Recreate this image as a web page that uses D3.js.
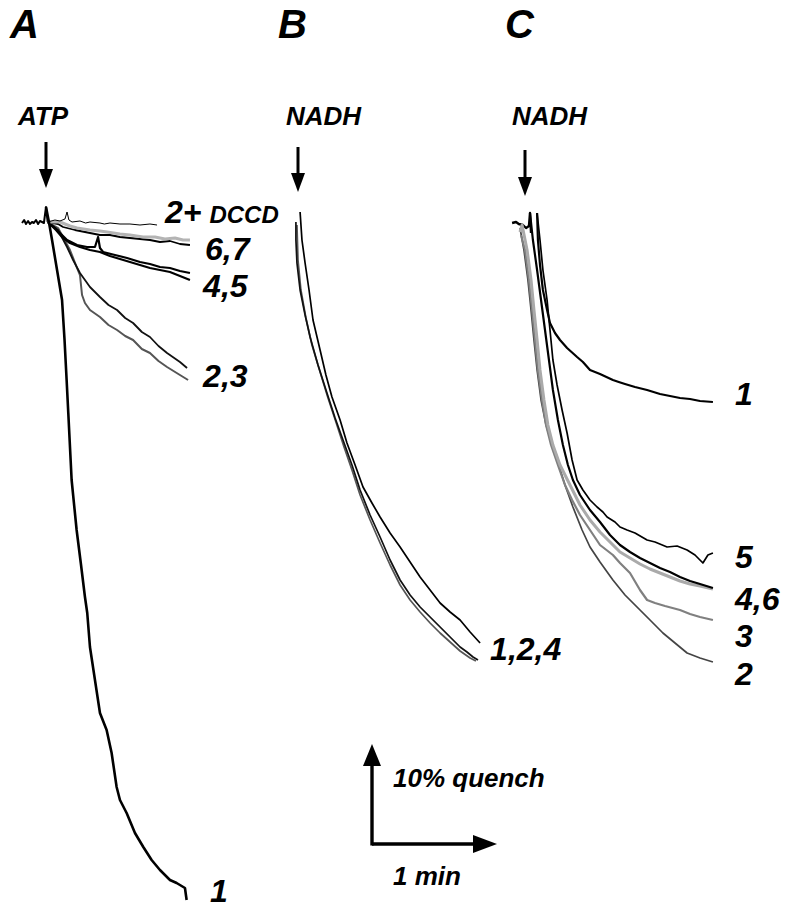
<!DOCTYPE html>
<html>
<head>
<meta charset="utf-8">
<script src="https://cdn.jsdelivr.net/npm/d3@7"></script>
<style>
  body { margin: 0; background: #fff; }
  svg text { font-family: "Liberation Sans", Arial, Helvetica, sans-serif; font-weight: bold; font-style: italic; fill: #000; }
</style>
</head>
<body>
<script>
// each point: [time after addition (s), quench (%)]
const preA = [[-11.5,0],[-10.5,-0.3],[-9.6,0.1],[-8.6,-0.2],[-7.7,0.1],[-6.7,-0.1],[-5.8,0],[-4.8,-0.3],[-3.8,0.1],[-2.9,-0.2],[-1.9,-0.1],[-1,0],[0,-1.6],[0.8,-0.1]];
const traceA1 = [[0,-1.6],[1.4,-0.1],[2.9,1.7],[5.3,4.7],[7.7,7.7],[8.9,11.7],[9.9,15.7],[10.7,19.0],[12.3,25.7],[14.7,30.7],[16.7,34.0],[18.7,37.4],[19.8,39.0],[21.1,42.4],[23.5,45.7],[25.9,49.0],[29.1,50.7],[31.5,53.0],[33.9,56.4],[35.5,57.7],[38.7,59.0],[42.7,61.0],[46.7,62.4],[50.7,63.7],[54.7,64.7],[59.5,65.7],[62.7,66.0],[66.7,66.5],[67.5,67.7]];
const traceA2 = [[0.8,-0.1],[5.8,0.7],[10.1,2.4],[13.0,3.7],[16.3,5.0],[21.1,6.4],[25.9,7.4],[30,8.2],[34.1,8.7],[38,9.5],[41.8,10.0],[46,10.9],[49.9,11.4],[54,12.3],[58.1,13.0],[64.3,13.9],[67.7,14.5]];
const traceA3 = [[0.8,-0.1],[5.8,0.5],[11.5,2.7],[14.9,4.5],[16.3,5.2],[17.3,7.2],[18.7,8.0],[21.1,8.7],[25.9,9.4],[30,10.2],[34.1,10.7],[38,11.3],[41.8,11.7],[46,12.6],[49.9,13.0],[54,13.8],[58.1,14.4],[64.3,15.2],[68.2,15.7]];
const traceA4 = [[0.8,-0.1],[4.3,0.5],[6.7,1.0],[10.1,1.7],[14.9,2.2],[19.7,2.4],[23.5,2.4],[25.0,1.4],[25.9,2.5],[27.4,2.9],[33.1,3.2],[38.9,3.5],[45.1,3.9],[49.9,4.1],[54.7,4.4],[59.5,4.5],[64.3,4.8],[69.1,5.0]];
const traceA5 = [[0.8,-0.1],[4.8,0.7],[7.7,1.4],[11.5,2.0],[16.3,2.4],[21.1,2.7],[25.9,2.9],[30.7,3.3],[35.5,3.6],[40.3,3.9],[45.1,4.2],[49.9,4.5],[54.7,4.7],[59.5,4.9],[64.3,5.3],[69.1,5.7]];
const traceA6 = [[0.8,-0.1],[6.7,-0.1],[11.5,0.3],[14.9,0.5],[21.1,0.7],[25.9,0.8],[29.3,0.9],[35.5,1.1],[40.3,1.2],[46.6,1.4],[52.3,1.4],[57.1,1.6],[61.9,1.5],[65.8,1.7],[69.1,1.7]];
const traceA7 = [[0.8,-0.1],[5.8,0.1],[8.2,0.4],[13.9,0.7],[21.1,1.0],[25.9,1.2],[30.7,1.2],[35.5,1.4],[40.3,1.5],[45.1,1.6],[49.9,1.7],[54.7,1.9],[59.5,1.8],[64.3,2.1],[69.1,2.2]];
const traceA2dccd = [[0.8,-0.1],[4.3,-0.3],[6.7,-0.2],[9.1,-0.4],[10.1,-1.1],[11.0,-0.3],[12.5,-0.1],[16.3,-0.2],[19,0],[21.1,-0.1],[25.9,0],[28,0.1],[30.7,0],[35.5,0.1],[40.3,0.1],[45.1,0.2],[49.9,0.1],[53.3,0.2]];

const traceB1 = [[1.0,-1.1],[1.9,1.7],[3.4,4.0],[5.3,6.7],[7.2,9.7],[10.6,12.7],[13.4,15.2],[16.3,17.4],[20.2,19.7],[23.5,22.0],[27.4,24.2],[31.2,26.4],[35.5,28.0],[39.4,29.4],[44.2,31.0],[49.0,32.4],[53.8,33.9],[58.6,35.4],[63.4,36.7],[68.2,38.0],[73.0,38.9],[77.8,39.7],[82.6,40.9],[87.4,42.0]];
const traceB2 = [[-1.0,-0.1],[-1.0,1.7],[-0.5,4.0],[1.0,6.7],[3.4,9.2],[5.8,11.4],[9.6,14.2],[13.9,17.0],[17.8,19.5],[21.6,21.7],[25.9,24.2],[29.8,26.7],[34.6,29.2],[39.4,31.4],[44.2,33.7],[49.0,35.7],[53.8,37.2],[58.6,38.4],[63.4,39.4],[68.2,40.4],[73.0,41.4],[77.8,42.4],[81.1,42.9],[84.0,43.4],[86.4,43.7]];
const traceB4 = [[-0.5,0.2],[0,3.7],[1.4,6.7],[3.8,9.5],[6.7,12.2],[10.6,14.9],[14.4,17.5],[18.2,19.9],[22.1,22.4],[25.9,24.7],[29.8,27.2],[34.6,29.7],[39.4,32.0],[44.2,34.2],[49.0,36.2],[53.8,37.7],[58.6,38.9],[63.4,40.0],[68.2,41.0],[73.0,41.9],[77.8,42.8],[82.6,43.5],[85.4,43.8]];

const preC = [[-6.2,0],[-4.3,-0.1],[-3.0,0.1],[-1.0,0.2],[0.5,0.5],[1.9,0.3],[2.4,-1.0],[2.9,1.0]];
const traceC1 = [[5.8,-1.0],[6.2,1.7],[7.2,4.2],[8.6,6.7],[10.6,8.7],[12.0,10.0],[14.4,11.0],[16.8,11.7],[20.2,12.5],[25.0,13.4],[27.8,13.9],[31.2,14.7],[36.0,15.1],[42.2,15.7],[45,15.9],[48.0,16.1],[52.8,16.4],[58.6,16.7],[64.8,17.1],[69.6,17.3],[74.4,17.5],[79.2,17.6],[84.0,17.8],[90.2,17.9]];
const traceC2 = [[-2.4,0.5],[-0.5,2.7],[1.4,5.7],[2.9,8.7],[4.3,11.7],[5.8,14.7],[7.7,17.7],[10.1,20.2],[13.0,22.2],[15.4,23.7],[19.2,26.2],[23.0,28.4],[27.4,30.7],[31.2,32.4],[36.0,33.9],[42.2,35.7],[48.0,37.2],[55.2,38.7],[60.0,39.7],[66.2,41.0],[72.0,42.0],[77.8,43.0],[84.0,43.5],[90.2,43.9]];
const traceC3 = [[-1.9,1.2],[0,2.7],[1.9,5.7],[3.4,8.7],[4.8,11.7],[6.2,14.7],[8.2,17.7],[10.1,20.2],[12.5,22.2],[15.8,24.2],[19.2,26.2],[22.6,27.7],[26.4,29.2],[31.2,30.7],[36.0,32.2],[42.2,33.2],[45.6,34.0],[50.4,35.0],[55.2,36.7],[58.6,37.7],[62.4,38.0],[67.2,38.3],[74.4,38.7],[79.2,39.1],[84.0,39.4],[90.2,39.7]];
const traceC4 = [[2.4,-1.0],[3.8,1.7],[5.8,4.7],[7.7,7.7],[9.6,10.7],[11.5,13.7],[13.4,16.7],[15.8,19.7],[18.2,22.2],[20.6,24.2],[23.0,25.7],[26.4,27.2],[31.2,28.7],[36.0,29.9],[40.8,31.2],[45.6,32.2],[50.4,32.9],[55.2,33.5],[60.0,34.0],[64.8,34.5],[69.6,34.9],[74.4,35.4],[79.2,35.8],[84.0,36.1],[90.2,36.5]];
const traceC5 = [[5.8,-1.0],[7.2,1.7],[8.6,4.7],[10.6,7.7],[12.0,10.7],[13.4,13.7],[15.4,16.2],[17.8,18.7],[20.2,21.0],[22.6,23.7],[25.0,25.7],[27.8,26.7],[31.2,27.7],[34.6,28.4],[37.4,28.9],[39.4,29.4],[43.2,29.9],[45.6,30.4],[49.0,30.7],[52.8,31.0],[58.6,31.7],[62.4,31.9],[68.2,32.4],[73.0,32.3],[77.8,32.7],[81.6,33.2],[85.4,34.0],[87.8,33.2],[90.2,33.0]];
const traceC6 = [[-2.4,0.9],[-1.4,0.2],[1.0,2.7],[2.9,5.7],[4.3,8.7],[5.8,11.7],[7.2,14.7],[9.1,17.7],[11.0,20.2],[13.4,22.2],[16.8,24.2],[21.6,26.2],[26.4,28.2],[31.2,29.7],[36.0,30.9],[40.8,31.9],[45.6,32.9],[50.4,33.5],[55.2,34.1],[60.0,34.6],[64.8,35.0],[69.6,35.4],[74.4,35.8],[79.2,36.1],[84.0,36.3],[90.2,36.6]];

// trace labels: [time, quench, text]
const labelsA = [[57.1,0,"2+"],[76.3,3.7,"6,7"],[75.4,7.4,"4,5"],[75.4,16.4,"2,3"],[78.7,67.9,"1"]];
const labelsB = [[92.2,43.7,"1,2,4"]];
const labelsC = [[100.8,18.2,"1"],[100.8,34.5,"5"],[100.8,38.7,"4,6"],[100.8,42.4,"3"],[100.8,46.2,"2"]];

const panelNames = ["A", "B", "C"];
const additions = ["ATP", "NADH", "NADH"];

const W = 789, H = 910;
const svg = d3.select("body").append("svg").attr("width", W).attr("height", H);

// 60 s = 125 px, 10 % quench = 100 px
const y = d3.scaleLinear().domain([0, 10]).range([223, 323]);
const xA = d3.scaleLinear().domain([0, 60]).range([46, 171]);
const xB = d3.scaleLinear().domain([0, 60]).range([298, 423]);
const xC = d3.scaleLinear().domain([0, 60]).range([525, 650]);
const xs = [xA, xB, xC];

function lineFor(x) {
  return d3.line().x(d => x(d[0])).y(d => y(d[1]));
}

function draw(x, data, color, w) {
  svg.append("path")
    .datum(data)
    .attr("d", lineFor(x))
    .attr("fill", "none")
    .attr("stroke", color)
    .attr("stroke-width", w)
    .attr("stroke-linejoin", "round");
}

// panel letters, addition labels and arrows
const letterX = [10, 278, 505];
const addOffset = [-28, -12, -13];
panelNames.forEach((n, i) => {
  svg.append("text").attr("x", letterX[i]).attr("y", 38).attr("font-size", 40).text(n);
  const ax = xs[i](0);
  svg.append("text").attr("x", ax + addOffset[i]).attr("y", 125).attr("font-size", 26).text(additions[i]);
  const top = [142, 147, 150][i], tip = [188, 192, 196][i];
  svg.append("line").attr("x1", ax).attr("x2", ax).attr("y1", top).attr("y2", tip - 16)
    .attr("stroke", "#000").attr("stroke-width", 3);
  svg.append("path")
    .attr("d", `M${ax - 7},${tip - 19}L${ax + 7},${tip - 19}L${ax},${tip}Z`)
    .attr("fill", "#000");
});

// panel A
draw(xA, preA, "#000", 2);
draw(xA, traceA3, "#555", 2);
draw(xA, traceA2, "#111", 1.8);
draw(xA, traceA5, "#000", 2.2);
draw(xA, traceA4, "#000", 2.2);
draw(xA, traceA7, "#000", 1.8);
draw(xA, traceA6, "#b4b4b4", 3);
draw(xA, traceA2dccd, "#000", 1);
draw(xA, traceA1, "#000", 2.6);

// panel B
draw(xB, traceB4, "#555", 1.7);
draw(xB, traceB2, "#111", 1.7);
draw(xB, traceB1, "#000", 1.7);

// panel C
draw(xC, preC, "#000", 2.4);
draw(xC, traceC2, "#444", 1.7);
draw(xC, traceC3, "#808080", 2.2);
draw(xC, traceC6, "#aaaaaa", 3);
draw(xC, traceC4, "#000", 2.2);
draw(xC, traceC5, "#000", 1.7);
draw(xC, traceC1, "#000", 2.2);

function labels(x, list) {
  list.forEach(d => {
    const t = svg.append("text").attr("x", x(d[0])).attr("y", y(d[1])).attr("font-size", 32).text(d[2]);
    if (d[2] === "2+") t.append("tspan").attr("font-size", 24).attr("dx", 8).text("DCCD");
  });
}
labels(xA, labelsA);
labels(xB, labelsB);
labels(xC, labelsC);

// scale bar: 1 min x 10% quench
const ox = 372, oy = 844;
const lenX = xB(60) - xB(0), lenY = y(10) - y(0);
svg.append("line").attr("x1", ox).attr("x2", ox).attr("y1", oy + 1.5).attr("y2", oy - lenY + 20)
  .attr("stroke", "#000").attr("stroke-width", 3.4);
svg.append("path").attr("d", `M${ox - 9},${oy - lenY + 22}L${ox + 9},${oy - lenY + 22}L${ox},${oy - lenY}Z`).attr("fill", "#000");
svg.append("line").attr("x1", ox).attr("x2", ox + lenX - 22).attr("y1", oy).attr("y2", oy)
  .attr("stroke", "#000").attr("stroke-width", 3.4);
svg.append("path").attr("d", `M${ox + lenX - 24},${oy - 9}L${ox + lenX - 24},${oy + 9}L${ox + lenX},${oy}Z`).attr("fill", "#000");
svg.append("text").attr("x", 393).attr("y", 787).attr("font-size", 26).text("10% quench");
svg.append("text").attr("x", 393).attr("y", 885).attr("font-size", 26).text("1 min");
</script>
</body>
</html>
